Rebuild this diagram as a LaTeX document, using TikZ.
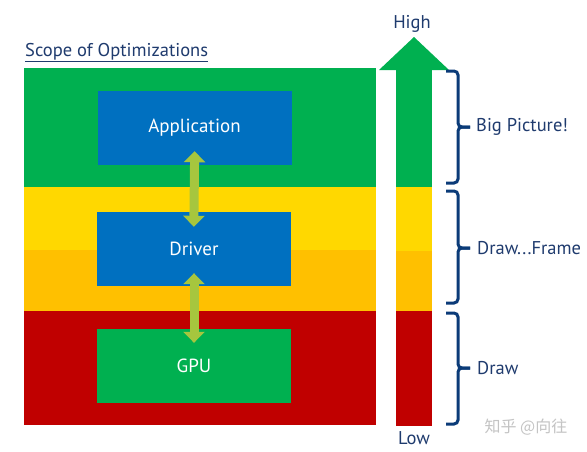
\documentclass[tikz,border=0pt]{standalone}
\usepackage{fontspec}
\setmainfont{PT Sans}
\newfontfamily\cjkfont{Noto Sans CJK SC}
\usetikzlibrary{arrows.meta}
\definecolor{bandgreen}{HTML}{00B050}
\definecolor{bandyellow}{HTML}{FFD800}
\definecolor{bandorange}{HTML}{FFC000}
\definecolor{bandred}{HTML}{C00000}
\definecolor{boxblue}{HTML}{0070C0}
\definecolor{arrowgreen}{HTML}{A6C63E}
\definecolor{textblue}{HTML}{1F3B6E}
\definecolor{braceblue}{HTML}{0B3B78}
\definecolor{wmgray}{HTML}{C4C4C4}
\tikzset{
  layerbox/.style={rectangle, minimum width=194pt, minimum height=74pt, inner sep=0pt,
    text=white, font=\fontsize{19}{21}\selectfont},
  linkarrow/.style={draw=arrowgreen, line width=9pt,
    {Triangle[width=21pt,length=11pt]}-{Triangle[width=21pt,length=11pt]}},
  bracestyle/.style={draw=braceblue, line width=3pt, rounded corners=4pt, line cap=butt},
  sidelabel/.style={text=textblue, font=\fontsize{18.5}{20}\selectfont, anchor=west, inner sep=0pt},
  endlabel/.style={text=textblue, font=\fontsize{18.5}{20}\selectfont, inner sep=0pt},
}
\begin{document}
\begin{tikzpicture}[x=1pt,y=-1pt]
\useasboundingbox (0,0) rectangle (587,451);
\fill[white] (0,0) rectangle (587,451);
% bands
\fill[bandgreen] (24,68) rectangle (376,187);
\fill[bandyellow] (24,187) rectangle (376,250);
\fill[bandorange] (24,250) rectangle (376,311);
\fill[bandred] (24,311) rectangle (376,425);
% title
\node[text=textblue, font=\fontsize{18.5}{20}\selectfont, anchor=base west, inner sep=0pt] (title) at (25,56) {\underline{Scope of Optimizations}};
% boxes
\node[layerbox, fill=boxblue] (app) at (194.5,128) {Application};
\node[layerbox, fill=boxblue] (drv) at (194,249) {Driver};
\node[layerbox, fill=bandgreen] (gpu) at (194,366) {GPU};
% arrows
\draw[linkarrow, shorten <=-14pt, shorten >=-15pt] (app.south) -- (drv.north);
\draw[linkarrow, shorten <=-13pt, shorten >=-14pt] (drv.south) -- (gpu.north);
% scale bar
\fill[bandgreen] (379,70) -- (414,37) -- (449,70) -- cycle;
\fill[bandgreen] (396,70) rectangle (432,187);
\fill[bandyellow] (396,187) rectangle (432,251);
\fill[bandorange] (396,251) rectangle (432,311);
\fill[bandred] (396,311) rectangle (432,426);
\node[endlabel] (high) at (412,23.5) {High};
\node[endlabel] (low) at (414,438) {Low};
% braces
\draw[bracestyle] (446,71) -- (458,71) -- (458,127) -- (470,127);
\draw[bracestyle] (470,127) -- (458,127) -- (458,183) -- (446,183);
\draw[bracestyle] (446,191) -- (458,191) -- (458,248) -- (470,248);
\draw[bracestyle] (470,248) -- (458,248) -- (458,303) -- (446,303);
\draw[bracestyle] (446,313) -- (458,313) -- (458,368) -- (470,368);
\draw[bracestyle] (470,368) -- (458,368) -- (458,424) -- (446,424);
\coordinate (b1) at (470,127);
\coordinate (b2) at (470,248);
\coordinate (b3) at (470,368);
\node[sidelabel] (l1) at ([xshift=6pt]b1) {Big Picture!};
\node[sidelabel] (l2) at ([xshift=7pt]b2) {Draw...Frame};
\node[sidelabel] (l3) at ([xshift=7pt]b3) {Draw};
% watermark
\node[text=wmgray, font=\cjkfont\fontsize{16}{18}\selectfont, inner sep=0pt] (wm) at (526,427) {知乎 @向往};
\end{tikzpicture}
\end{document}
